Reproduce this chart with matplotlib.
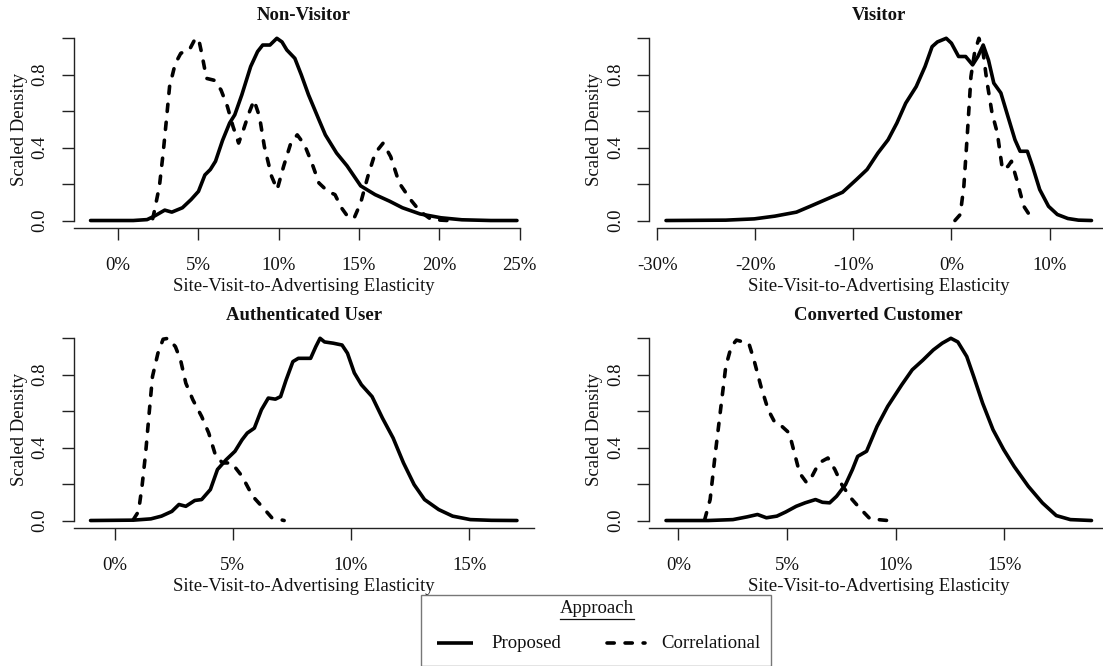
import matplotlib
matplotlib.use("Agg")
import matplotlib.pyplot as plt
from matplotlib.patches import Rectangle
from matplotlib.lines import Line2D

plt.rcParams['font.family'] = ['Liberation Serif', 'DejaVu Serif']

# ---------------- data ----------------
panel_titles = ["Non-Visitor", "Visitor", "Authenticated User", "Converted Customer"]
series_names = ["Proposed", "Correlational"]
legend_title = "Approach"
x_label = "Site-Visit-to-Advertising Elasticity"
y_label = "Scaled Density"

# Non-Visitor
nv_prop_x = [-1.72, 0.94, 1.8, 2.25, 2.9, 3.34, 4.0, 4.54, 5.0, 5.4, 5.74, 6.06, 6.5, 6.94, 7.26, 7.7,
             8.25, 8.68, 9.0, 9.45, 9.88, 10.2, 10.5, 11.0, 11.4, 11.85, 12.5, 12.9, 13.6, 14.25, 15.1,
             16.0, 16.9, 17.7, 18.8, 20.1, 21.4, 23.2, 24.83]
nv_prop_y = [0, 0, 0.005, 0.024, 0.057, 0.046, 0.07, 0.115, 0.16, 0.25, 0.28, 0.325, 0.44, 0.535, 0.58,
             0.69, 0.845, 0.927, 0.963, 0.963, 1.0, 0.98, 0.936, 0.89, 0.80, 0.69, 0.553, 0.47, 0.37,
             0.30, 0.19, 0.142, 0.106, 0.07, 0.036, 0.015, 0.004, 0.0, 0.0]
nv_corr_x = [2.15, 2.25, 2.57, 2.8, 3.0, 3.2, 3.55, 3.9, 4.43, 4.75, 5.0, 5.2, 5.5, 5.96, 6.4, 6.8, 7.15,
             7.5, 7.8, 8.14, 8.46, 8.8, 9.1, 9.55, 9.9, 10.3, 10.75, 11.15, 11.6, 12.06, 12.5, 13.05,
             13.5, 13.9, 14.35, 14.7, 15.1, 15.55, 16.0, 16.5, 16.97, 17.5, 18.2, 18.8, 19.5, 20.5]
nv_corr_y = [0.01, 0.05, 0.19, 0.37, 0.55, 0.735, 0.86, 0.918, 0.936, 0.99, 1.0, 0.918, 0.78, 0.77,
             0.717, 0.626, 0.516, 0.425, 0.498, 0.589, 0.66, 0.57, 0.407, 0.243, 0.17, 0.297, 0.425,
             0.47, 0.416, 0.316, 0.206, 0.16, 0.142, 0.07, 0.015, 0.015, 0.097, 0.243, 0.37, 0.425,
             0.35, 0.206, 0.115, 0.05, 0.005, 0.0]

# Visitor
v_prop_x = [-29.1, -23.0, -20.1, -18.0, -15.8, -14.4, -12.6, -11.1, -9.7, -8.6, -7.5, -6.46, -5.56,
            -4.66, -3.59, -2.69, -1.97, -1.43, -0.53, 0.0, 0.73, 1.45, 2.16, 2.7, 3.24, 3.78, 4.32,
            5.04, 5.76, 6.48, 7.0, 7.74, 8.27, 9.0, 9.9, 10.8, 11.87, 12.95, 14.28]
v_prop_y = [0, 0.002, 0.009, 0.024, 0.046, 0.078, 0.12, 0.155, 0.224, 0.28, 0.37, 0.443, 0.535, 0.644,
            0.735, 0.845, 0.954, 0.98, 1.0, 0.973, 0.9, 0.9, 0.854, 0.9, 0.963, 0.88, 0.754, 0.7,
            0.571, 0.443, 0.38, 0.38, 0.297, 0.17, 0.078, 0.033, 0.011, 0.002, 0.0]
v_corr_x = [0.36, 0.9, 1.27, 1.63, 1.99, 2.35, 2.8, 3.24, 3.6, 4.14, 4.68, 5.2, 5.76, 6.12, 6.66,
            7.38, 8.27]
v_corr_y = [0.0, 0.033, 0.19, 0.48, 0.79, 0.918, 1.0, 0.918, 0.77, 0.59, 0.48, 0.28, 0.297, 0.325,
            0.224, 0.078, 0.005]

# Authenticated User
au_prop_x = [-1.02, 0.79, 1.53, 1.98, 2.42, 2.72, 3.01, 3.39, 3.68, 4.05, 4.35, 4.72, 5.09, 5.39, 5.61,
             5.91, 6.21, 6.5, 6.8, 7.02, 7.25, 7.54, 7.77, 8.29, 8.51, 8.69, 8.88, 9.25, 9.62, 9.85,
             10.14, 10.44, 10.89, 11.33, 11.78, 12.22, 12.67, 13.11, 13.71, 14.3, 15.05, 15.94, 17.02]
au_prop_y = [0, 0.002, 0.009, 0.024, 0.05, 0.088, 0.078, 0.11, 0.115, 0.17, 0.28, 0.334, 0.38, 0.443,
             0.48, 0.507, 0.608, 0.672, 0.666, 0.68, 0.77, 0.872, 0.89, 0.89, 0.954, 1.0, 0.98, 0.973,
             0.963, 0.918, 0.81, 0.745, 0.68, 0.562, 0.453, 0.316, 0.197, 0.115, 0.06, 0.024, 0.005,
             0.001, 0.0]
au_corr_x = [0.79, 1.01, 1.16, 1.31, 1.46, 1.6, 1.83, 2.05, 2.27, 2.57, 2.79, 3.01, 3.31, 3.68, 3.98,
             4.28, 4.57, 4.95, 5.39, 5.84, 6.28, 6.65, 7.17]
au_corr_y = [0.005, 0.05, 0.19, 0.37, 0.59, 0.79, 0.918, 0.995, 1.0, 0.954, 0.88, 0.754, 0.662, 0.571,
             0.48, 0.352, 0.316, 0.316, 0.243, 0.133, 0.07, 0.015, 0.0]

# Converted Customer
cc_prop_x = [-0.57, 1.38, 2.51, 3.16, 3.64, 4.05, 4.53, 4.94, 5.42, 5.83, 6.31, 6.63, 6.96, 7.28, 7.69,
             8.01, 8.25, 8.66, 9.14, 9.63, 10.28, 10.76, 11.25, 11.73, 12.14, 12.54, 12.86, 13.27,
             13.59, 14.0, 14.48, 14.97, 15.45, 16.1, 16.75, 17.39, 18.04, 19.01]
cc_prop_y = [0, 0, 0.005, 0.02, 0.033, 0.015, 0.024, 0.047, 0.078, 0.097, 0.115, 0.1, 0.097, 0.133,
             0.197, 0.28, 0.352, 0.38, 0.516, 0.626, 0.745, 0.827, 0.88, 0.936, 0.973, 1.0, 0.98, 0.9,
             0.79, 0.644, 0.498, 0.389, 0.297, 0.188, 0.097, 0.027, 0.005, 0.0]
cc_corr_x = [1.21, 1.46, 1.70, 1.94, 2.18, 2.43, 2.67, 2.99, 3.24, 3.48, 3.8, 4.13, 4.45, 4.77, 5.1,
             5.34, 5.58, 5.91, 6.15, 6.47, 6.88, 7.2, 7.52, 7.93, 8.33, 8.82, 9.63]
cc_corr_y = [0.005, 0.115, 0.37, 0.608, 0.845, 0.954, 0.99, 0.98, 0.973, 0.88, 0.735, 0.608, 0.535,
             0.516, 0.48, 0.37, 0.26, 0.206, 0.243, 0.316, 0.343, 0.28, 0.197, 0.124, 0.07, 0.009, 0.0]

nv_xticks = [0, 5, 10, 15, 20, 25]
v_xticks = [-30, -20, -10, 0, 10]
au_xticks = [0, 5, 10, 15]
cc_xticks = [0, 5, 10, 15]
y_ticks = [0.0, 0.2, 0.4, 0.6, 0.8, 1.0]
y_ticklabels = ["0.0", "", "0.4", "", "0.8", ""]

# ---------------- layout / style ----------------
W, H = 1103, 666
fig = plt.figure(figsize=(W / 100, H / 100), dpi=100)
FS = 13.5
TXT = '#111111'
AXC = '#222222'
LW = 2.6
DASH = (0, (2.0, 3.0))

def fx(px):
    return px / W

def fy(py):
    return 1 - py / H

# plot regions in pixels: left, top, right, bottom
boxes = [(73.5, 31.0, 534.0, 227.8), (649.0, 31.0, 1108.5, 227.8),
         (73.5, 331.0, 534.0, 527.8), (649.0, 331.0, 1108.5, 527.8)]
spine_limits = [(None, 25), (-30, None), (None, None), (None, None)]

panels = [
    (nv_prop_x, nv_prop_y, nv_corr_x, nv_corr_y, nv_xticks),
    (v_prop_x, v_prop_y, v_corr_x, v_corr_y, v_xticks),
    (au_prop_x, au_prop_y, au_corr_x, au_corr_y, au_xticks),
    (cc_prop_x, cc_prop_y, cc_corr_x, cc_corr_y, cc_xticks),
]

for i, (px_, py_, cx_, cy_, ticks) in enumerate(panels):
    l, t, r, b = boxes[i]
    ax = fig.add_axes([fx(l), fy(b), (r - l) / W, (b - t) / H])
    ax.set_facecolor('none')
    ax.plot(px_, py_, color='black', lw=LW, solid_capstyle='round', solid_joinstyle='round',
            label=series_names[0])
    ax.plot(cx_, cy_, color='black', lw=LW, linestyle=DASH, dash_capstyle='round',
            label=series_names[1])
    xmin = min(min(px_), min(cx_))
    xmax = max(max(px_), max(cx_))
    ext = 0.04 * (xmax - xmin)
    ax.set_xlim(xmin - ext, xmax + ext)
    ax.set_ylim(-0.04, 1.04)

    for s in ['top', 'right']:
        ax.spines[s].set_visible(False)
    for s in ['left', 'bottom']:
        ax.spines[s].set_color(AXC)
        ax.spines[s].set_linewidth(1.0)
    ax.spines['left'].set_bounds(0, 1)
    lo, hi = spine_limits[i]
    ax.spines['bottom'].set_bounds(xmin - ext if lo is None else lo, xmax + ext if hi is None else hi)

    ax.set_xticks(ticks)
    ax.set_xticklabels([f"{v}%" for v in ticks])
    ax.set_yticks(y_ticks)
    ax.set_yticklabels(y_ticklabels)
    ax.tick_params(axis='x', direction='out', length=8.3, width=1.0, color=AXC, pad=18.5,
                   labelsize=FS, labelcolor=TXT)
    ax.tick_params(axis='y', direction='out', length=8.3, width=1.0, color=AXC, pad=15.8,
                   labelsize=FS, labelcolor=TXT)
    for lab in ax.get_xticklabels():
        lab.set_va('center')
    for lab in ax.get_yticklabels():
        lab.set_rotation(90)
        lab.set_va('center')
        lab.set_ha('center')

    ax.set_xlabel(x_label, fontsize=FS, color=TXT)
    ax.xaxis.set_label_coords(0.5, -0.2993)
    ax.xaxis.label.set_va('center')
    ax.set_ylabel(y_label, fontsize=FS, color=TXT)
    ax.yaxis.set_label_coords(-0.1183, 0.5)
    ax.yaxis.label.set_va('center')
    ax.text(0.5, 1.0813, panel_titles[i], transform=ax.transAxes, ha='center', va='center',
            fontsize=FS, fontweight='bold', color=TXT)

# ---------------- legend (drawn as figure artists) ----------------
bx0, by0, bx1, by1 = 420.7, 595.0, 771.0, 665.5
fig.patches.append(Rectangle((fx(bx0), fy(by1)), (bx1 - bx0) / W, (by1 - by0) / H,
                             transform=fig.transFigure, facecolor='white', edgecolor='#777777',
                             lw=1.0, zorder=5))
ttl = fig.text(fx(596.5), fy(613.3), legend_title, ha='center', va='baseline', fontsize=FS,
               color=TXT, zorder=6)
fig.lines.append(Line2D([fx(436.7), fx(473.3)], [fy(643.3)] * 2, transform=fig.transFigure,
                        color='black', lw=LW, solid_capstyle='butt', zorder=6))
fig.text(fx(491.0), fy(648.3), series_names[0], ha='left', va='baseline', fontsize=FS,
         color=TXT, zorder=6)
fig.lines.append(Line2D([fx(606.7), fx(645.0)], [fy(643.3)] * 2, transform=fig.transFigure,
                        color='black', lw=LW, linestyle=DASH, dash_capstyle='round', zorder=6))
fig.text(fx(661.0), fy(648.3), series_names[1], ha='left', va='baseline', fontsize=FS,
         color=TXT, zorder=6)

fig.canvas.draw()
bb = ttl.get_window_extent()
fig.lines.append(Line2D([bb.x0 / W, bb.x1 / W], [fy(619.3)] * 2, transform=fig.transFigure,
                        color=TXT, lw=0.9, zorder=6))

fig.savefig('out.png', dpi=100)
